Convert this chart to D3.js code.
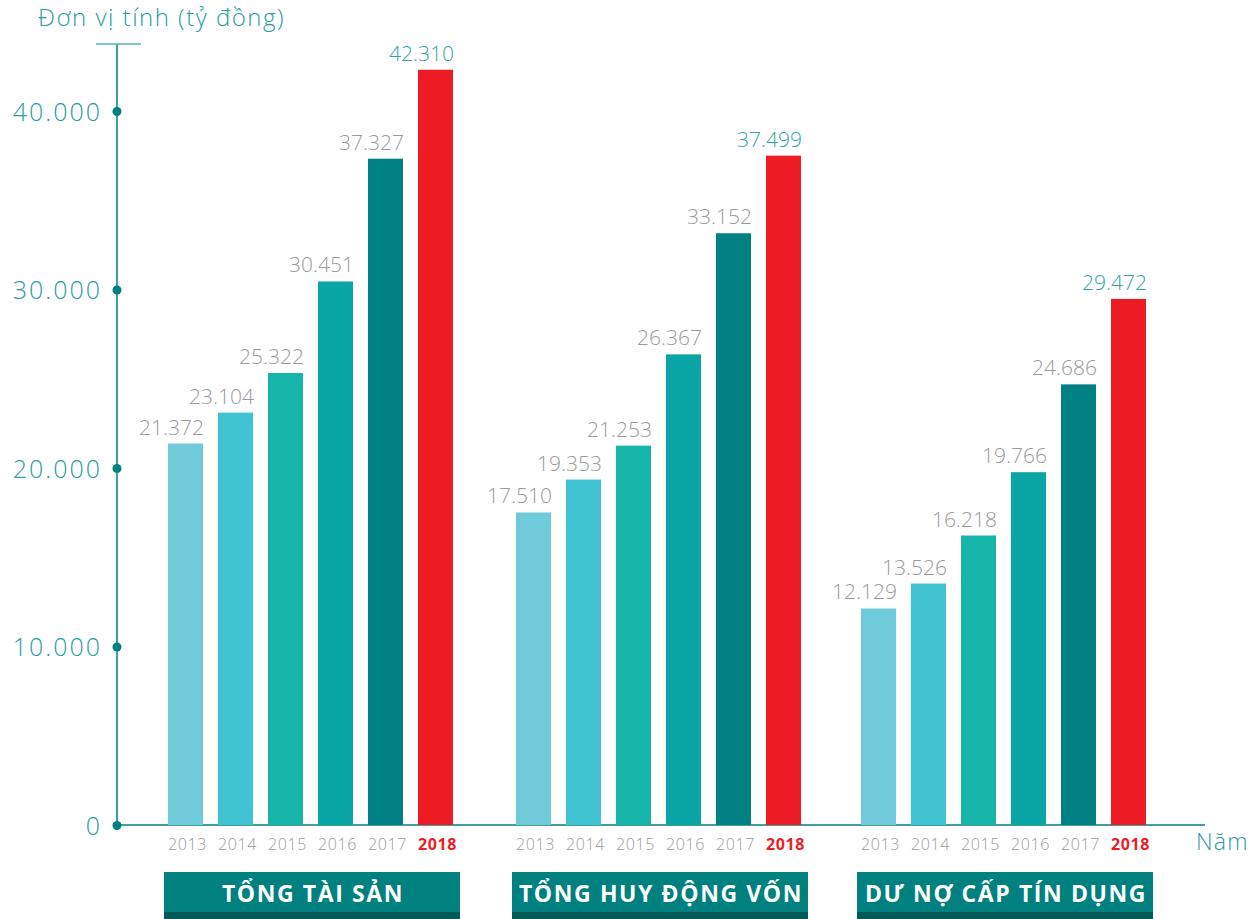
<!DOCTYPE html>
<html><head><meta charset="utf-8">
<script src="https://cdn.jsdelivr.net/npm/d3@7"></script>
<style>body{margin:0;background:#fff}svg{display:block;font-family:"Open Sans",Lato,sans-serif}</style>
</head><body><svg id="c" width="1256" height="919"></svg>
<script>
const years = ["2013","2014","2015","2016","2017","2018"];
const groups = ["TỔNG TÀI SẢN","TỔNG HUY ĐỘNG VỐN","DƯ NỢ CẤP TÍN DỤNG"];
const tongTaiSan = [21372,23104,25322,30451,37327,42310];
const tongHuyDongVon = [17510,19353,21253,26367,33152,37499];
const duNoCapTinDung = [12129,13526,16218,19766,24686,29472];
const series = [tongTaiSan,tongHuyDongVon,duNoCapTinDung];
const yTicks = [0,10000,20000,30000,40000];
const colors = ["#6FCBD9","#42C3D3","#17B5A9","#0AA5A5","#008285","#ED1C24"];

const svg = d3.select("#c");
const y = d3.scaleLinear().domain([0,40000]).range([825,111]);
const groupStart = {"TỔNG TÀI SẢN":168,"TỔNG HUY ĐỘNG VỐN":516,"DƯ NỢ CẤP TÍN DỤNG":861};
const bx = d3.scaleBand().domain(years).range([0,285]).paddingInner(0.3).paddingOuter(0).align(0);
const fmt = v => d3.format(",")(v).replace(/,/g,".");

// axes
const axisColor = "#00807F";
svg.append("line").attr("x1",117).attr("x2",117).attr("y1",44).attr("y2",825).attr("stroke",axisColor).attr("stroke-width",1.5);
svg.append("line").attr("x1",96).attr("x2",141).attr("y1",44).attr("y2",44).attr("stroke","#4FB3B6").attr("stroke-width",1.5);
svg.append("line").attr("x1",117).attr("x2",1205).attr("y1",825).attr("y2",825).attr("stroke",axisColor).attr("stroke-width",1.5);
const yAxis = d3.axisLeft(y).tickValues(yTicks).tickSize(0).tickPadding(15).tickFormat(fmt);
const ya = svg.append("g").attr("transform","translate(117,0)").call(yAxis);
ya.select(".domain").remove();
ya.selectAll("text").attr("fill","#2A9D9F").attr("font-size",25).attr("font-weight",300)
  .attr("font-family","'Open Sans',sans-serif").attr("letter-spacing","2px").attr("dy","0.36em");
ya.selectAll(".tick").append("circle").attr("r",4.5).attr("fill",axisColor);

svg.append("text").attr("x",38).attr("y",26).attr("fill","#2A9D9F").attr("font-size",24).attr("font-weight",300)
  .attr("letter-spacing","1.5px").text("Đơn vị tính (tỷ đồng)");
svg.append("text").attr("x",1196).attr("y",850).attr("fill","#2A9D9F").attr("font-size",23).attr("font-weight",300)
  .attr("letter-spacing","1.2px").text("Năm");

groups.forEach((g,gi)=>{
  const x0 = groupStart[g];
  const G = svg.append("g").attr("transform",`translate(${x0},0)`);
  years.forEach((yr,i)=>{
    const v = series[gi][i];
    const last = i===years.length-1;
    G.append("rect").attr("x",bx(yr)).attr("width",bx.bandwidth()).attr("y",y(v)).attr("height",825-y(v)).attr("fill",colors[i]);
    G.append("text").attr("x",bx(yr)+bx.bandwidth()+1).attr("y",y(v)-9).attr("text-anchor","end")
      .attr("fill",last?"#2FA5A8":"#9A9A9A").attr("font-size",21).attr("font-weight",300).text(fmt(v));
    G.append("text").attr("x",bx(yr)+bx.bandwidth()/2+2).attr("y",850).attr("text-anchor","middle")
      .attr("fill",last?"#ED1C24":"#9A9A9A").attr("font-size",16).attr("font-weight",last?700:300)
      .attr("letter-spacing","0.6px").text(yr);
  });
  G.append("rect").attr("x",-4).attr("y",872).attr("width",296).attr("height",47).attr("fill","#00807F");
  G.append("rect").attr("x",-4).attr("y",912).attr("width",296).attr("height",7).attr("fill","#005A58");
  G.append("text").attr("x",145).attr("y",902).attr("text-anchor","middle").attr("fill","#fff")
    .attr("font-size",23).attr("font-weight",700).attr("letter-spacing","1.6px").text(g);
});
</script></body></html>
